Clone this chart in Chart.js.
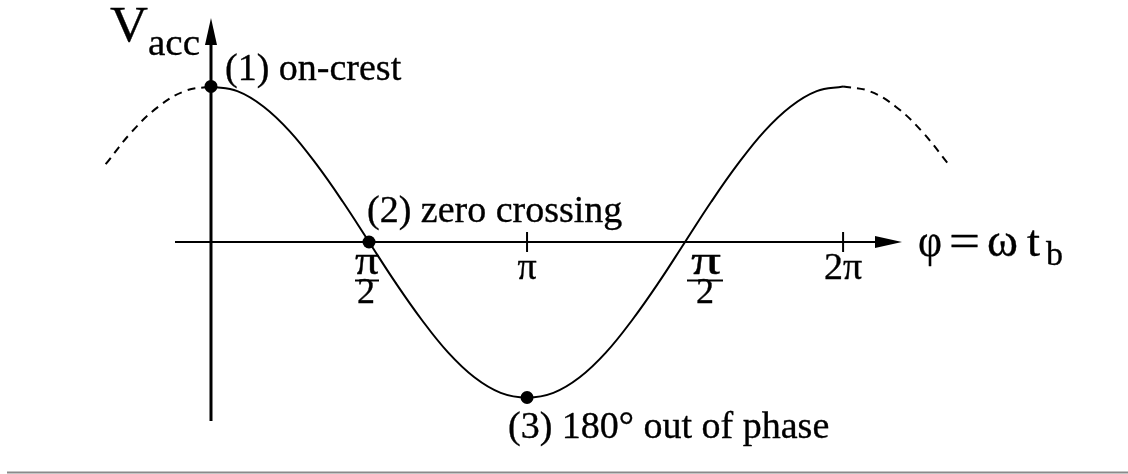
<!DOCTYPE html>
<html><head><meta charset="utf-8">
<script src="https://cdn.jsdelivr.net/npm/chart.js@4/dist/chart.umd.min.js"></script>
<style>html,body{margin:0;padding:0;background:#fff;overflow:hidden}#wrap{width:1128px;height:474px;position:relative}</style>
</head><body><div id="wrap"><canvas id="c" width="1128" height="474"></canvas></div>
<script>
// ---- data (phase in degrees, V_acc in units of the crest) ----
const leftDashPhase  = [-60, -45, -30, -15, 0];
const leftDashV      = [0.50, 0.71, 0.87, 0.97, 1.00];
const solidPhase     = [0, 15, 30, 45, 60, 75, 90, 105, 120, 135, 150, 165, 180, 195, 210, 225, 240, 255, 270, 285, 300, 315, 330, 345, 360];
const solidV         = [1.00, 0.97, 0.87, 0.71, 0.50, 0.26, 0.00, -0.26, -0.50, -0.71, -0.87, -0.97, -1.00, -0.97, -0.87, -0.71, -0.50, -0.26, 0.00, 0.26, 0.50, 0.71, 0.87, 0.97, 1.00];
const rightDashPhase = [360, 375, 390, 405, 420];
const rightDashV     = [1.00, 0.97, 0.87, 0.71, 0.50];
const markerPhase    = [0, 90, 180];
const markerV        = [1, 0, -1];
const markerLabels   = ["(1) on-crest", "(2) zero crossing", "(3) 180\u00B0 out of phase"];
const tickPhase      = [90, 180, 270, 360];
const tickNum        = ["\u03C0", "\u03C0", "\u03C0", "2\u03C0"];
const tickDen        = ["2", "", "2", ""];
const yTitle = "V", yTitleSub = "acc";
const xTitleParts = ["\u03C6", "=", "\u03C9", "t"], xTitleSub = "b";

const pts = (xs, ys) => xs.map((v, i) => ({x: v, y: ys[i]}));
const serif = '"Liberation Serif","Times New Roman",serif';

function drawFit(ctx, text, x, baseline, size, width, align) {
  ctx.font = size + 'px ' + serif;
  const w = ctx.measureText(text).width;
  const sx = width ? width / w : 1;
  const left = align === 'center' ? x - (w * sx) / 2 : x;
  ctx.save();
  ctx.translate(left, baseline);
  ctx.scale(sx, 1);
  ctx.textAlign = 'left';
  ctx.textBaseline = 'alphabetic';
  ctx.lineWidth = 0.35;
  ctx.lineJoin = 'round';
  ctx.fillText(text, 0, 0);
  ctx.strokeText(text, 0, 0);
  ctx.restore();
}

const decor = {
  id: 'decor',
  beforeDraw(chart) {
    const ctx = chart.ctx;
    ctx.save(); ctx.fillStyle = '#fff'; ctx.fillRect(0, 0, chart.width, chart.height); ctx.restore();
  },
  beforeDatasetsDraw(chart) {
    const {ctx, scales: {x, y}} = chart;
    const x0 = x.getPixelForValue(0), y0 = y.getPixelForValue(0);
    ctx.save();
    ctx.strokeStyle = '#000'; ctx.fillStyle = '#000';
    // horizontal axis
    ctx.lineWidth = 2.2;
    ctx.beginPath(); ctx.moveTo(x0 - 36, y0); ctx.lineTo(x0 + 668, y0); ctx.stroke();
    ctx.beginPath(); ctx.moveTo(x0 + 691, y0); ctx.lineTo(x0 + 664, y0 - 6); ctx.lineTo(x0 + 664, y0 + 6); ctx.closePath(); ctx.fill();
    // vertical axis
    ctx.lineWidth = 3;
    ctx.beginPath(); ctx.moveTo(x0, 421); ctx.lineTo(x0, 40); ctx.stroke();
    ctx.beginPath(); ctx.moveTo(x0, 18); ctx.lineTo(x0 - 6, 45); ctx.lineTo(x0 + 6, 45); ctx.closePath(); ctx.fill();
    // tick marks at pi and 2pi
    ctx.lineWidth = 2;
    [180, 360].forEach(p => {
      const px = x.getPixelForValue(p);
      ctx.beginPath(); ctx.moveTo(px, y0 - 10); ctx.lineTo(px, y0 + 10); ctx.stroke();
    });
    // bottom rule of the scanned page
    ctx.strokeStyle = '#8a8a8a'; ctx.lineWidth = 2;
    ctx.beginPath(); ctx.moveTo(7, 472.5); ctx.lineTo(1128, 472.5); ctx.stroke();
    ctx.restore();
  },
  afterDatasetsDraw(chart) {
    const {ctx, scales: {x, y}} = chart;
    ctx.save();
    ctx.fillStyle = '#000'; ctx.strokeStyle = '#000';
    // y title
    drawFit(ctx, yTitle, 110, 41, 50, 38, 'left');
    drawFit(ctx, yTitleSub, 148, 55, 38, 52, 'left');
    // marker labels: [dx, dy, font]
    const off = [[14, -6, 38], [-2, -20, 38], [-19, 41, 38]];
    markerPhase.forEach((p, i) => {
      const px = x.getPixelForValue(p), py = y.getPixelForValue(markerV[i]);
      drawFit(ctx, markerLabels[i], px + off[i][0], py + off[i][1], off[i][2], 0, 'left');
    });
    // tick labels
    const tickCx = [367, 527, 706, 843];
    tickPhase.forEach((p, i) => {
      const cx = tickCx[i];
      if (tickDen[i]) {
        drawFit(ctx, tickNum[i], cx, 274, 40, i === 2 ? 30 : 24, 'center');
        ctx.lineWidth = 2;
        const bl = i === 2 ? 687 : cx - 12, br = i === 2 ? 723 : cx + 12;
        ctx.beginPath(); ctx.moveTo(bl, 280.5); ctx.lineTo(br, 280.5); ctx.stroke();
        drawFit(ctx, tickDen[i], cx - 1, 303, 36, 0, 'center');
      } else {
        drawFit(ctx, tickNum[i], cx, 279, 38, 0, 'center');
      }
    });
    // x title
    drawFit(ctx, xTitleParts[0], 918, 256, 46, 24, 'left');
    drawFit(ctx, xTitleParts[1], 949, 256, 46, 31, 'left');
    drawFit(ctx, xTitleParts[2], 987, 256, 46, 31, 'left');
    drawFit(ctx, xTitleParts[3], 1027, 256, 44, 13, 'left');
    drawFit(ctx, xTitleSub, 1046, 265, 34, 0, 'left');
    ctx.restore();
  }
};

new Chart(document.getElementById('c'), {
  type: 'scatter',
  data: {
    datasets: [
      {data: pts(solidPhase, solidV), showLine: true, borderColor: '#000', borderWidth: 2, pointRadius: 0, tension: 0.4, fill: false},
      {data: pts(leftDashPhase, leftDashV), showLine: true, borderColor: '#000', borderWidth: 2, borderDash: [8, 6], pointRadius: 0, tension: 0.4, fill: false},
      {data: pts(rightDashPhase, rightDashV), showLine: true, borderColor: '#000', borderWidth: 2, borderDash: [8, 6], pointRadius: 0, tension: 0.4, fill: false},
      {data: pts(markerPhase, markerV), showLine: false, pointRadius: 6.5, pointBackgroundColor: '#000', pointBorderColor: '#000', pointBorderWidth: 0}
    ]
  },
  options: {
    responsive: false, animation: false, devicePixelRatio: 1,
    layout: {padding: 0, autoPadding: false},
    plugins: {legend: {display: false}, tooltip: {enabled: false}},
    scales: {
      x: {type: 'linear', display: false, min: -120.17, max: 522.27},
      y: {type: 'linear', display: false, min: -1.492, max: 1.556}
    }
  },
  plugins: [decor]
});
</script></body></html>
